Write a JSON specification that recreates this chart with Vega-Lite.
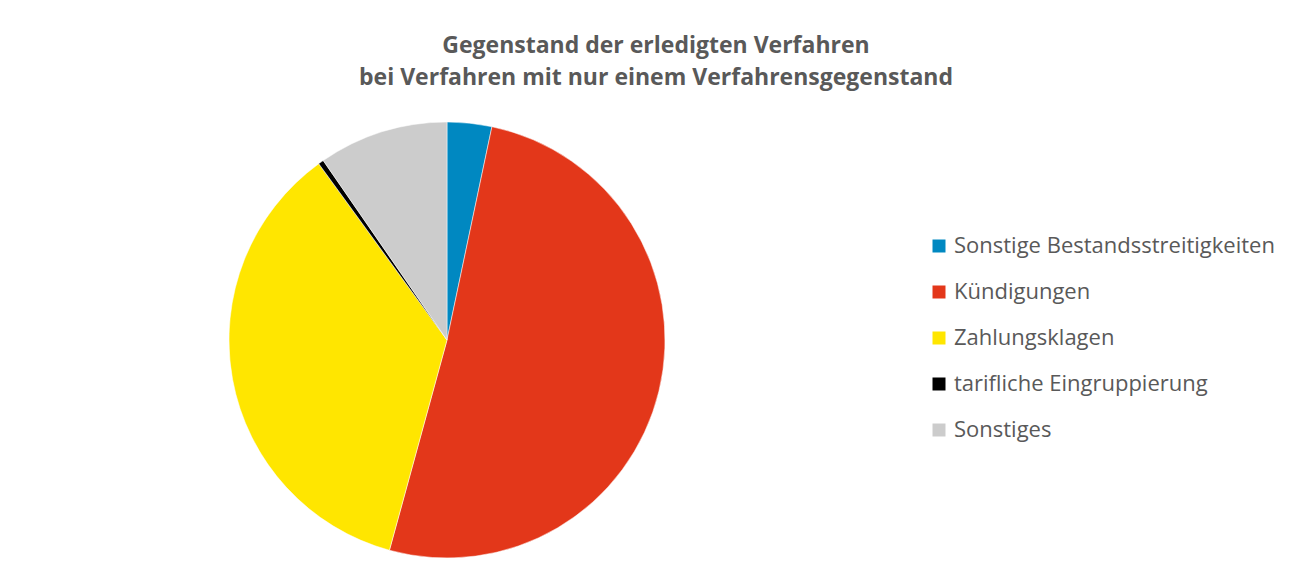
{
  "$schema": "https://vega.github.io/schema/vega-lite/v6.json",
  "autosize": "none",
  "padding": {"left": 229, "top": 122, "right": 646, "bottom": 16},
  "width": 436,
  "height": 436,
  "background": "white",
  "title": {
    "text": ["Gegenstand der erledigten Verfahren", "bei Verfahren mit nur einem Verfahrensgegenstand"],
    "anchor": "middle",
    "frame": "group",
    "dx": 209,
    "offset": 31,
    "font": "Open Sans",
    "fontSize": 23,
    "fontWeight": "bold",
    "color": "#595959",
    "lineHeight": 32
  },
  "data": {
    "values": [
      {"Gegenstand": "Sonstige Bestandsstreitigkeiten", "Anteil": 3.3, "order": 1},
      {"Gegenstand": "Kündigungen", "Anteil": 50.9, "order": 2},
      {"Gegenstand": "Zahlungsklagen", "Anteil": 35.7, "order": 3},
      {"Gegenstand": "tarifliche Eingruppierung", "Anteil": 0.4, "order": 4},
      {"Gegenstand": "Sonstiges", "Anteil": 9.6, "order": 5}
    ]
  },
  "mark": {"type": "arc", "stroke": "white", "strokeWidth": 0.5},
  "encoding": {
    "theta": {"field": "Anteil", "type": "quantitative", "stack": true},
    "order": {"field": "order", "type": "quantitative"},
    "color": {
      "field": "Gegenstand",
      "type": "nominal",
      "scale": {
        "domain": ["Sonstige Bestandsstreitigkeiten", "Kündigungen", "Zahlungsklagen", "tarifliche Eingruppierung", "Sonstiges"],
        "range": ["#0088c1", "#e3371a", "#ffe600", "#000000", "#cccccc"]
      },
      "legend": {
        "title": null,
        "orient": "none",
        "legendX": 699,
        "legendY": 113,
        "symbolType": "square",
        "symbolSize": 169,
        "symbolStrokeWidth": 0,
        "labelFont": "Open Sans",
        "labelFontSize": 22,
        "labelColor": "#595959",
        "labelOffset": 4,
        "labelLimit": 500,
        "rowPadding": 24
      }
    }
  },
  "config": {"view": {"stroke": null}}
}
